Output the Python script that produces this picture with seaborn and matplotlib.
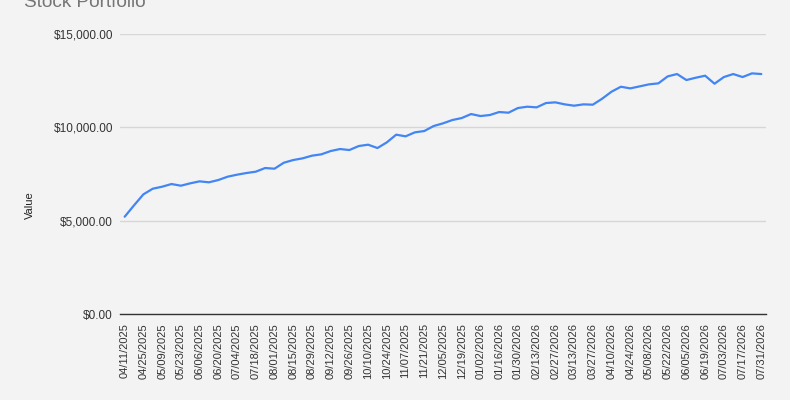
import pandas as pd
import matplotlib.pyplot as plt
import matplotlib.ticker as mticker
import seaborn as sns

# weekly portfolio values
values = [5212, 5822, 6411, 6712, 6820, 6963, 6873, 7000, 7107, 7054,
          7177, 7356, 7463, 7552, 7624, 7820, 7784, 8105, 8248, 8338,
          8481, 8553, 8730, 8838, 8784, 8998, 9070, 8891, 9195, 9607,
          9518, 9732, 9802, 10070, 10214, 10391, 10498, 10712, 10605, 10659,
          10820, 10784, 11034, 11106, 11070, 11302, 11338, 11231, 11159, 11231,
          11213, 11534, 11909, 12175, 12087, 12194, 12302, 12355, 12730, 12855,
          12534, 12658, 12766, 12337, 12694, 12855, 12694, 12891, 12855]

first_week = '2025-04-11'
y_ticks = [0, 5000, 10000, 15000]

dates = pd.date_range(first_week, periods=len(values), freq='7D').strftime('%m/%d/%Y')
df = pd.DataFrame({'Date': dates, 'Value': values})

sns.set_theme(style='white')
plt.rcParams['font.family'] = ['Liberation Sans', 'DejaVu Sans']

bg = '#f3f3f3'
fig = plt.figure(figsize=(7.9, 4.0), dpi=100, facecolor=bg)
ax = fig.add_axes([120 / 790, 1 - 314 / 400, 646 / 790, 280 / 400])
ax.set_facecolor(bg)

sns.lineplot(data=df, x='Date', y='Value', ax=ax, color='#4285f4', linewidth=1.6)

ax.set_xlim(-0.5, len(values) - 0.5)
ax.set_ylim(0, 15000)
ax.set_yticks(y_ticks)
ax.yaxis.set_major_formatter(mticker.StrMethodFormatter('${x:,.2f}'))
ax.grid(axis='y', color='#d6d6d6', linewidth=1)
ax.set_axisbelow(True)

# label every second week
tick_pos = list(range(0, len(values), 2))
ax.set_xticks(tick_pos)
ax.set_xticklabels([df['Date'][i] for i in tick_pos], rotation=90)
ax.tick_params(axis='x', length=0, pad=6.5, labelsize=8, labelcolor='#333333')
ax.tick_params(axis='y', length=0, pad=5, labelsize=8.5, labelcolor='#333333')

for s in ['top', 'right', 'left']:
    ax.spines[s].set_visible(False)
ax.spines['bottom'].set_color('#333333')
ax.spines['bottom'].set_linewidth(1)

ax.set_xlabel('')
ax.set_ylabel('')
fig.text(29.5 / 790, 1 - 205 / 400, 'Value', rotation=90, ha='center', va='center',
         fontsize=8, color='#222222')
fig.text(24 / 790, 1 - 7 / 400, 'Stock Portfolio', ha='left', va='baseline',
         fontsize=13.7, color='#757575')

fig.savefig('out.png', dpi=100, facecolor=bg)
